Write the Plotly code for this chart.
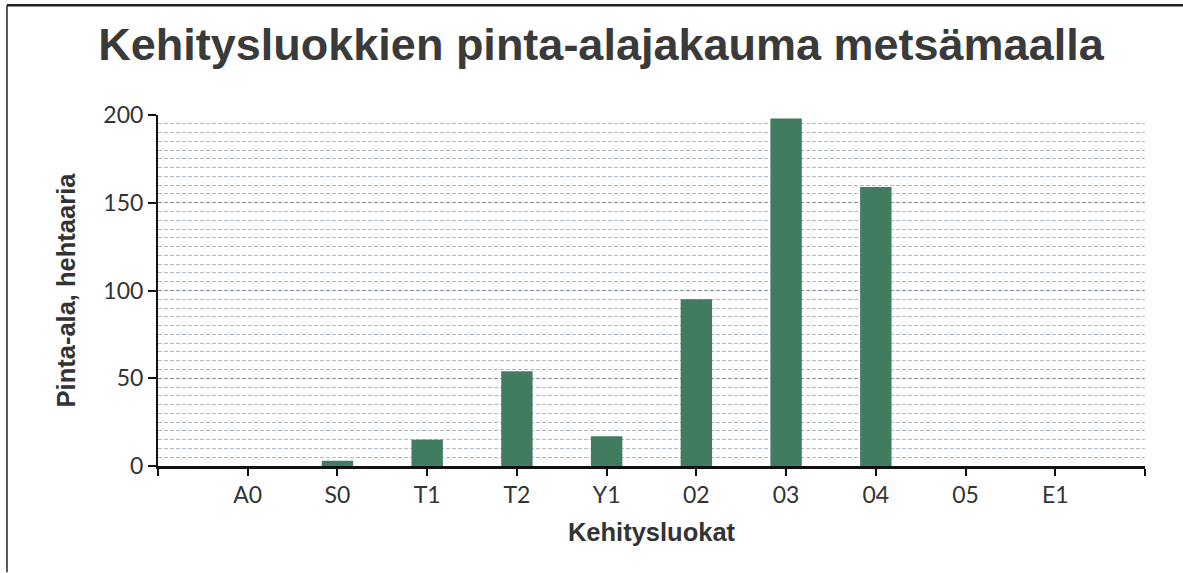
import plotly.graph_objects as go

categories = ["A0", "S0", "T1", "T2", "Y1", "02", "03", "04", "05", "E1"]
values = [0, 3, 15, 54, 17, 95, 198, 159, 0, 0]
y_ticks = [0, 50, 100, 150, 200]

title_text = "Kehitysluokkien pinta-alajakauma metsämaalla"
x_title = "Kehitysluokat"
y_title = "Pinta-ala, hehtaaria"

positions = list(range(len(categories)))
tick_positions = [-1] + positions + [len(categories)]
tick_texts = [""] + categories + [""]

fig = go.Figure()
fig.add_trace(go.Bar(
    x=positions, y=values,
    marker=dict(color="#417b60", line=dict(width=0)),
    width=0.35,
    showlegend=False,
))

fig.update_layout(
    width=1183, height=573,
    margin=dict(l=158, r=38, t=115, b=107),
    paper_bgcolor="white",
    plot_bgcolor="white",
    title=dict(
        text=f"<b>{title_text}</b>",
        x=601 / 1183, xanchor="center", xref="container",
        y=1 - 44 / 573, yanchor="middle", yref="container",
        font=dict(family="Liberation Sans, Arial", size=45, color="#3a3a3a"),
    ),
    xaxis=dict(
        range=[-1, len(categories)],
        tickmode="array", tickvals=tick_positions, ticktext=tick_texts,
        showline=True, linecolor="#111", linewidth=2.5,
        ticks="outside", ticklen=7, tickcolor="#111", tickwidth=1.5,
        showgrid=False, zeroline=False,
        tickfont=dict(family="Lato, Liberation Sans", size=23, color="#333"),
        title=dict(text=f"<b>{x_title}</b>", standoff=16,
                   font=dict(family="Liberation Sans, Arial", size=25.5, color="#333")),
    ),
    yaxis=dict(
        range=[0, 200],
        tickmode="array", tickvals=y_ticks,
        showline=True, linecolor="#111", linewidth=2,
        ticks="outside", ticklen=8, tickcolor="#111", tickwidth=1.5,
        showgrid=True, gridcolor="rgba(100,115,130,0.55)", gridwidth=1,
        griddash="4px,2px",
        minor=dict(dtick=5, showgrid=True, gridcolor="rgba(100,120,140,0.5)",
                   gridwidth=1, griddash="4px,2px"),
        zeroline=False,
        tickfont=dict(family="Lato, Liberation Sans", size=23, color="#333"),
        title=dict(text=f"<b>{y_title}</b>", standoff=20,
                   font=dict(family="Liberation Sans, Arial", size=25.5, color="#333")),
    ),
    shapes=[
        dict(type="line", xref="paper", yref="paper",
             x0=(7 - 158) / 987, x1=(1183 - 158) / 987,
             y0=(466.5 - 5) / 351.5, y1=(466.5 - 5) / 351.5,
             line=dict(color="#222", width=2.5)),
        dict(type="line", xref="paper", yref="paper",
             x0=(7 - 158) / 987, x1=(7 - 158) / 987,
             y0=(466.5 - 5) / 351.5, y1=(466.5 - 573) / 351.5,
             line=dict(color="#222", width=1.5)),
    ],
)

fig.write_html("out.html", config={"displayModeBar": False},
               post_script="document.body.style.margin='0';")
